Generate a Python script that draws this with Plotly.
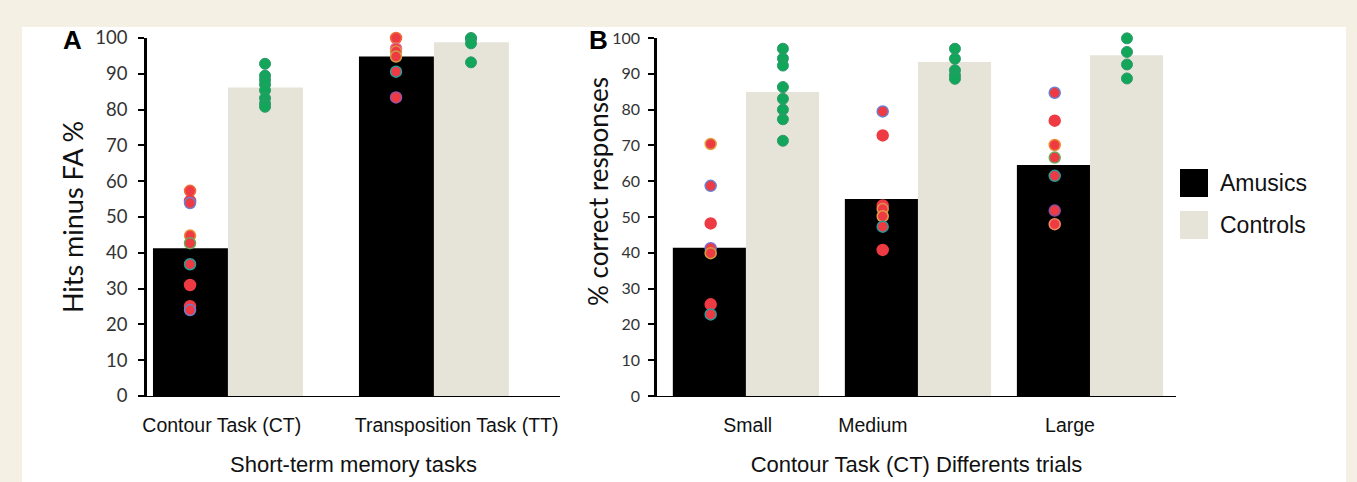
import plotly.graph_objects as go

# ---------------- data ----------------
tasks_a = ["Contour Task (CT)", "Transposition Task (TT)"]
amusics_a = [41.3, 94.8]
controls_a = [86.2, 98.8]
amusics_a_pts = [
    [57.3, 54.5, 53.9, 44.8, 42.7, 36.8, 31.0, 25.1, 24.0],
    [100.0, 97.1, 96.2, 94.8, 90.6, 83.4],
]
controls_a_pts = [
    [92.8, 89.5, 88.3, 87.0, 85.4, 83.2, 81.7, 80.8],
    [100.0, 99.8, 98.5, 93.2],
]

trials_b = ["Small", "Medium", "Large"]
amusics_b = [41.4, 55.0, 64.5]
controls_b = [84.9, 93.3, 95.2]
amusics_b_pts = [
    [70.4, 58.7, 48.2, 41.3, 39.9, 25.6, 22.8],
    [79.5, 72.8, 53.2, 52.2, 50.2, 47.3, 40.8],
    [84.7, 76.9, 70.1, 66.6, 61.5, 51.8, 48.0],
]
controls_b_pts = [
    [97.0, 94.3, 92.3, 86.3, 83.0, 80.0, 77.3, 71.3],
    [97.0, 94.2, 91.0, 89.6, 88.6],
    [99.9, 96.1, 92.6, 88.7],
]

# ---------------- styles ----------------
CREAM = "#f4f0e3"
BAR_AM = "#000000"
BAR_CT = "#e6e3d8"
RED = "#ee3b43"
GREEN = "#12a65a"
edge_am_a = [["#f06a3a", RED, "#6a7fd0", "#f08a30", "#6aa85a", "#2a9a9a", RED, RED, "#6a7fd0"],
             ["#f06a3a", "#e0708a", "#e09050", "#d0a040", "#2a9a9a", "#a050a0"]]
edge_am_b = [["#e0a040", "#6a7fd0", RED, "#7a6ad0", "#d0a040", RED, "#2a9a9a"],
             ["#6a7fd0", RED, RED, "#e09050", "#e0a040", "#2a9a9a", RED],
             ["#6a7fd0", RED, "#f08a30", "#6aa85a", "#2a9a9a", "#8a50a0", "#f08a60"]]

W, H = 1357, 482
def px_x(p): return p / W
def px_y(p): return (H - p) / H

TICKFONT = "Lato, Open Sans, sans-serif"
ARIAL = "Liberation Sans, Arial, sans-serif"

fig = go.Figure()

def add_panel(xa, ya, cats, am, ct, am_pts, ct_pts, am_edges, dx_am, dx_ct, bw):
    xs = list(range(len(cats)))
    fig.add_trace(go.Bar(x=xs, y=am, name="Amusics", marker=dict(color=BAR_AM, line=dict(width=0)),
                         xaxis=xa, yaxis=ya, showlegend=False, width=bw, offset=-bw))
    fig.add_trace(go.Bar(x=xs, y=ct, name="Controls", marker=dict(color=BAR_CT, line=dict(width=0)),
                         xaxis=xa, yaxis=ya, showlegend=False, width=bw, offset=0))
    for i, (pts, edges) in enumerate(zip(am_pts, am_edges)):
        fig.add_trace(go.Scatter(x=[i + dx_am] * len(pts), y=pts, mode="markers", cliponaxis=False,
                                 marker=dict(size=11, color=RED, line=dict(color=edges, width=1.5)),
                                 xaxis=xa, yaxis=ya, showlegend=False, hoverinfo="y"))
    for i, pts in enumerate(ct_pts):
        fig.add_trace(go.Scatter(x=[i + dx_ct] * len(pts), y=pts, mode="markers", cliponaxis=False,
                                 marker=dict(size=11, color=GREEN, line=dict(color="#2f9a6a", width=1)),
                                 xaxis=xa, yaxis=ya, showlegend=False, hoverinfo="y"))

add_panel("x", "y", tasks_a, amusics_a, controls_a, amusics_a_pts, controls_a_pts, edge_am_a, -0.184, 0.18, 0.364)
add_panel("x2", "y2", trials_b, amusics_b, controls_b, amusics_b_pts, controls_b_pts, edge_am_b, -0.205, 0.215, 0.425)

ydom = [px_y(396), px_y(38)]
yaxis_common = dict(range=[0, 100], tickvals=list(range(0, 101, 10)), ticks="outside", ticklen=6,
                    tickwidth=2, tickcolor="#000", showline=True, linewidth=2.5, linecolor="#000",
                    showgrid=False, zeroline=False, domain=ydom, automargin=False)
xaxis_common = dict(showgrid=False, zeroline=False, showline=True, linewidth=1, linecolor="#000",
                    ticks="", tickfont=dict(family=ARIAL, size=19.5, color="#111"),
                    ticklabelstandoff=12, automargin=False)

fig.update_layout(
    width=W, height=H,
    margin=dict(l=0, r=0, t=0, b=0, autoexpand=False),
    paper_bgcolor=CREAM, plot_bgcolor="rgba(0,0,0,0)",
    barmode="overlay",
    showlegend=False,
    xaxis=dict(xaxis_common, domain=[px_x(147), px_x(560)], range=[-0.393, 1.612],
               tickvals=[-0.03, 1.11], ticktext=tasks_a,
               title=dict(text="Short-term memory tasks", standoff=21,
                          font=dict(family=ARIAL, size=22, color="#111")),
               anchor="y"),
    yaxis=dict(yaxis_common, anchor="x",
               tickfont=dict(family=TICKFONT, size=18.5, color="#333"), ticklabelstandoff=7,
               title=dict(text="Hits minus FA %", standoff=4,
                          font=dict(family=TICKFONT, size=27, color="#111"))),
    xaxis2=dict(xaxis_common, domain=[px_x(657), px_x(1176)], range=[-0.517, 2.5],
                tickvals=[0.01, 0.738, 1.884], ticktext=trials_b,
                title=dict(text="Contour Task (CT) Differents trials", standoff=21,
                           font=dict(family=ARIAL, size=22, color="#111")),
                anchor="y2"),
    yaxis2=dict(yaxis_common, anchor="x2",
                tickfont=dict(family=TICKFONT, size=16, color="#333"), ticklabelstandoff=5),
)

# y title of panel B (placed higher than centre, as in the original)
fig.add_annotation(text="% correct responses", xref="paper", yref="paper", x=px_x(598), y=px_y(192),
                   xanchor="center", yanchor="middle", textangle=-90, showarrow=False,
                   font=dict(family=TICKFONT, size=26, color="#111"))

# white panel background
fig.add_shape(type="rect", xref="paper", yref="paper", x0=px_x(22), x1=px_x(1346), y0=0, y1=px_y(27),
              fillcolor="#ffffff", line=dict(width=0), layer="below")

# panel letters
for letter, xp in (("A", 72), ("B", 598)):
    fig.add_annotation(text="<b>" + letter + "</b>", xref="paper", yref="paper", x=px_x(xp), y=px_y(40),
                       xanchor="center", yanchor="middle", showarrow=False,
                       font=dict(family=ARIAL, size=26, color="#000"))

# legend (drawn)
legend_items = [("Amusics", BAR_AM, 183), ("Controls", BAR_CT, 225)]
for name, col, yc in legend_items:
    fig.add_shape(type="rect", xref="paper", yref="paper", x0=px_x(1180), x1=px_x(1208),
                  y0=px_y(yc + 14), y1=px_y(yc - 14), fillcolor=col, line=dict(width=0))
    fig.add_annotation(text=name, xref="paper", yref="paper", x=px_x(1218), y=px_y(yc),
                       xanchor="left", yanchor="middle", showarrow=False,
                       font=dict(family=ARIAL, size=23, color="#111"))

fig.write_html("out.html", config={"displayModeBar": False},
               post_script="document.body.style.margin='0';document.body.style.overflow='hidden';")
